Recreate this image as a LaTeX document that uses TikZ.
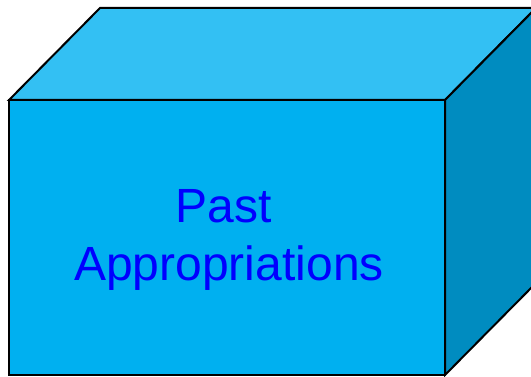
\documentclass[tikz,border=0pt]{standalone}
\usepackage{fontspec}
\setmainfont{Liberation Sans}
\definecolor{frontc}{RGB}{0,176,240}
\definecolor{topc}{RGB}{51,192,243}
\definecolor{sidec}{RGB}{0,140,192}
\definecolor{textc}{RGB}{0,0,255}
\tikzset{face/.style={draw=black,line width=2pt,line join=miter},
  lbl/.style={text=textc,font=\fontsize{48}{58}\selectfont,inner sep=0pt,anchor=base}}
\begin{document}
\begin{tikzpicture}[x=1pt,y=-1pt]
\useasboundingbox (0,0) rectangle (531,377);
\clip (0,0) rectangle (531,377);
\coordinate (fa) at (9,100);
\coordinate (fb) at (445,100);
\coordinate (fc) at (445,375);
\coordinate (fd) at (9,375);
\coordinate (ba) at (100,8);
\coordinate (bb) at (536,8);
\coordinate (bc) at (536,283);
\path[face,fill=topc] (fa) -- (ba) -- (bb) -- (fb) -- cycle;
\path[face,fill=sidec] (fb) -- (bb) -- (bc) -- (fc) -- cycle;
\path[face,fill=frontc] (fa) -- (fb) -- (fc) -- (fd) -- cycle;
\node[lbl] (l1) at (224,223) {Past};
\node[lbl] (l2) at (229,280) {Appropriations};
\end{tikzpicture}
\end{document}
